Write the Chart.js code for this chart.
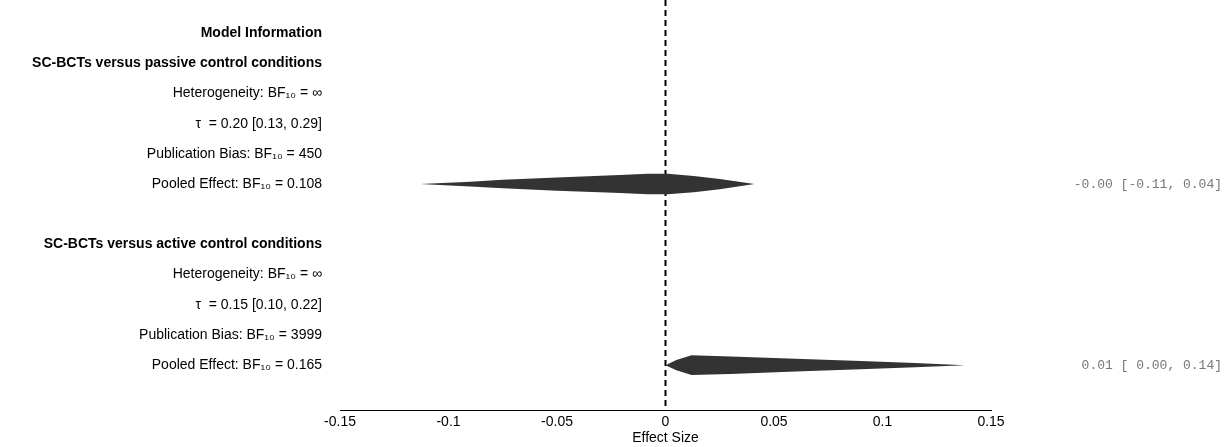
<!DOCTYPE html><html><head><script src="https://cdn.jsdelivr.net/npm/chart.js@4"></script>
<style>body{margin:0;background:#fff}#w{width:1226px;height:447px}</style></head><body><div id="w"><canvas id="c"></canvas></div>
<script>
const rowLabels=["Model Information","SC-BCTs versus passive control conditions","Heterogeneity: BF₁₀ = ∞","τ  = 0.20 [0.13, 0.29]","Publication Bias: BF₁₀ = 450","Pooled Effect: BF₁₀ = 0.108","","SC-BCTs versus active control conditions","Heterogeneity: BF₁₀ = ∞","τ  = 0.15 [0.10, 0.22]","Publication Bias: BF₁₀ = 3999","Pooled Effect: BF₁₀ = 0.165"];
const boldRows=[0,1,7];
const rightText={5:"-0.00 [-0.11, 0.04]",11:"0.01 [ 0.00, 0.14]"};
// density shapes: x positions and half-heights (row units)
const shape1X=[-0.113,-0.09,-0.075,-0.05,-0.024,-0.008,0.001,0.013,0.025,0.041];
const shape1H=[0,0.08,0.14,0.22,0.29,0.34,0.34,0.27,0.17,0];
const shape2X=[0,0.005,0.012,0.03,0.06,0.09,0.115,0.138];
const shape2H=[0,0.17,0.33,0.29,0.21,0.14,0.07,0];
const shapeRows=[5,11];
const xTicks=[-0.15,-0.1,-0.05,0,0.05,0.1,0.15];
const yMin=-1.1,yMax=12.5;
function edge(X,H,row,s){return X.map((x,i)=>({x,y:row+s*H[i]}));}
const fillC='#333333';
const ds=[
 {data:edge(shape1X,shape1H,shapeRows[0],-1),borderWidth:0,pointRadius:0,backgroundColor:fillC,fill:false},
 {data:edge(shape1X,shape1H,shapeRows[0],1),borderWidth:0,pointRadius:0,backgroundColor:fillC,fill:'-1'},
 {data:edge(shape2X,shape2H,shapeRows[1],-1),borderWidth:0,pointRadius:0,backgroundColor:fillC,fill:false},
 {data:edge(shape2X,shape2H,shapeRows[1],1),borderWidth:0,pointRadius:0,backgroundColor:fillC,fill:'-1'},
 {data:[{x:0,y:yMin},{x:0,y:yMax}],borderColor:'#000',borderWidth:2,borderDash:[6,4],pointRadius:0,fill:false}
];
const textPlugin={id:'txt',afterDraw(ch){const c=ch.ctx,y=ch.scales.y;c.save();c.textBaseline='middle';
 rowLabels.forEach((t,i)=>{if(!t)return;c.fillStyle='#000';c.textAlign='right';
  c.font=(boldRows.includes(i)?'bold ':'')+'14px "Liberation Sans", Arial';c.fillText(t,322,y.getPixelForValue(i));});
 c.font='13px "Liberation Mono", monospace';c.fillStyle='#777';c.textAlign='right';
 for(const k in rightText)c.fillText(rightText[k],1222,y.getPixelForValue(+k));c.restore();}};
new Chart(document.getElementById('c'),{type:'line',data:{datasets:ds},plugins:[textPlugin],
 options:{responsive:true,maintainAspectRatio:false,animation:false,
  layout:{padding:{left:340,right:235,top:0,bottom:0}},
  plugins:{legend:{display:false},tooltip:{enabled:false}},
  scales:{x:{type:'linear',min:-0.15,max:0.15,grid:{display:false,drawTicks:true,tickLength:3,tickColor:'#000'},border:{color:'#000',width:1},
    afterBuildTicks(a){a.ticks=xTicks.map(v=>({value:v}));},
    ticks:{color:'#000',font:{size:14,family:'"Liberation Sans", Arial'},padding:0,maxRotation:0,callback:v=>String(+v.toFixed(2))},
    title:{display:true,text:'Effect Size',color:'#000',font:{size:14,family:'"Liberation Sans", Arial'},padding:{top:0,bottom:0}}},
   y:{type:'linear',min:yMin,max:yMax,reverse:true,display:false}}}});
</script></body></html>
